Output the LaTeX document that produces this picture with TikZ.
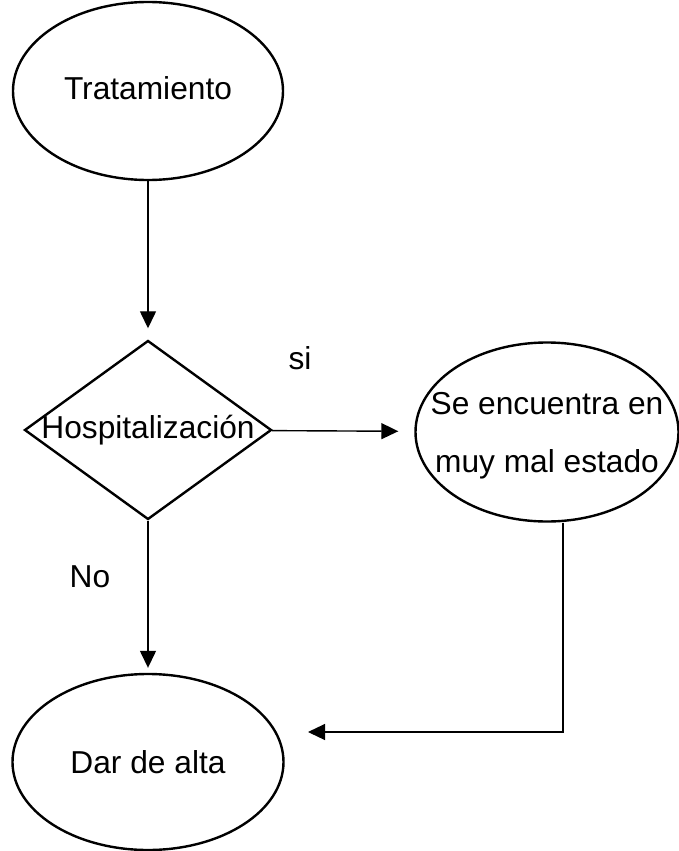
\documentclass[tikz,border=0pt]{standalone}
\usepackage{fontspec}
\setmainfont{Liberation Sans}
\usepackage{tikz}
\usetikzlibrary{shapes.geometric}
\usetikzlibrary{arrows.meta}
\tikzstyle{elipse} = [ellipse, draw, line width=2.4pt, inner sep=0pt, minimum width=270pt, minimum height=178pt]
\tikzstyle{rombo} = [diamond, draw, line width=2.4pt, inner sep=0pt, minimum width=247pt, minimum height=179pt]
\tikzstyle{flecha} = [line width=1.4pt, -{Triangle[length=17pt,width=16pt]}]

\begin{document}
\begin{tikzpicture}
				[x=1pt, y=-1pt,
				font=\fontsize{31.7}{58}\selectfont
				]
				\useasboundingbox (0,0) rectangle (678,851);
				\draw (148,91) node[elipse](trat){\raisebox{6pt}{Tratamiento}};
				\draw (148,430) node[rombo](hosp){\makebox[0pt]{Hospitalizaci\'on}};
				\draw (547,432) node[elipse, minimum width=263pt, minimum height=179pt](grave){\makebox[0pt]{\begin{tabular}{@{}c@{}}Se encuentra en\\muy mal estado\end{tabular}}};
				\draw (148,762) node[elipse, minimum width=271pt, minimum height=176pt](alta){Dar de alta};
				\draw (300,358) node(si){si};
				\draw (90,577) node(no){No};
				\coordinate (codo) at (563,732);
				\coordinate (llegada) at (308,732);
				\foreach \from/\to/\gap in {trat/hosp/11pt,hosp/grave/16pt,hosp/alta/5pt}
				\draw[flecha, shorten >=\gap] (\from) -- (\to);
				\draw[flecha, line width=1.1pt] (grave.south -| codo) -- (codo) -- (llegada);
			\end{tikzpicture}
\end{document}
